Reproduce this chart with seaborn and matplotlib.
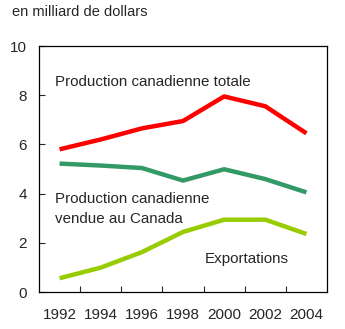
import numpy as np
import pandas as pd
import matplotlib
matplotlib.use("Agg")
import matplotlib.pyplot as plt
import seaborn as sns

# DONNÉES
annees = ["1992", "1994", "1996", "1998", "2000", "2002", "2004"]
production_totale = [5.8, 6.2, 6.65, 6.95, 7.95, 7.55, 6.45]
vendue_canada = [5.22, 5.14, 5.04, 4.53, 4.99, 4.59, 4.05]
exportations = [0.56, 0.99, 1.62, 2.44, 2.94, 2.94, 2.36]

series = {
    "totale": production_totale,
    "canada": vendue_canada,
    "export": exportations,
}
couleurs = {"totale": "#ff0000", "canada": "#339966", "export": "#99cc00"}

df = pd.DataFrame(
    [(i, v, nom) for nom, vals in series.items() for i, v in enumerate(vals)],
    columns=["pos", "valeur", "serie"],
)

sns.set_style("white")
plt.rcParams["font.family"] = ["Liberation Sans", "DejaVu Sans"]

fig = plt.figure(figsize=(3.45, 3.29), dpi=100)
ax = fig.add_axes([39 / 345, 1 - 292 / 329, 288 / 345, 246 / 329])

sns.lineplot(
    data=df, x="pos", y="valeur", hue="serie", palette=couleurs,
    linewidth=3.2, legend=False, ax=ax, solid_capstyle="butt",
)

ax.set_xlim(-0.5, len(annees) - 0.5)
ax.set_ylim(0, 10)
ax.set_yticks([0, 2, 4, 6, 8, 10])
ax.set_xticks(range(len(annees)))
ax.set_xticklabels(annees)
ax.set_xticks(np.arange(0.5, len(annees) - 1, 1), minor=True)
ax.tick_params(axis="x", which="major", length=0, labelsize=11, pad=11.5)
ax.tick_params(axis="x", which="minor", direction="in", length=4, width=0.8,
               bottom=True)
ax.tick_params(axis="y", direction="in", length=4, width=0.8, left=True,
               labelsize=11, pad=8.5)
ax.set_xlabel("")
ax.set_ylabel("")
for s in ax.spines.values():
    s.set_color("black")
    s.set_linewidth(0.9)

fig.text(12 / 345, 1 - 12 / 329, "en milliard de dollars", fontsize=10.5,
         va="center", ha="left")
ax.text(-0.5 + 16 / 41.3, 8.55, "Production canadienne totale", fontsize=10.9,
        va="center", ha="left")
ax.text(-0.5 + 16 / 41.3, 3.8, "Production canadienne", fontsize=10.9,
        va="center", ha="left")
ax.text(-0.5 + 16 / 41.3, 2.98, "vendue au Canada", fontsize=10.9,
        va="center", ha="left")
ax.text(3.52, 1.35, "Exportations", fontsize=10.9, va="center", ha="left")

fig.savefig("out.png", dpi=100)
